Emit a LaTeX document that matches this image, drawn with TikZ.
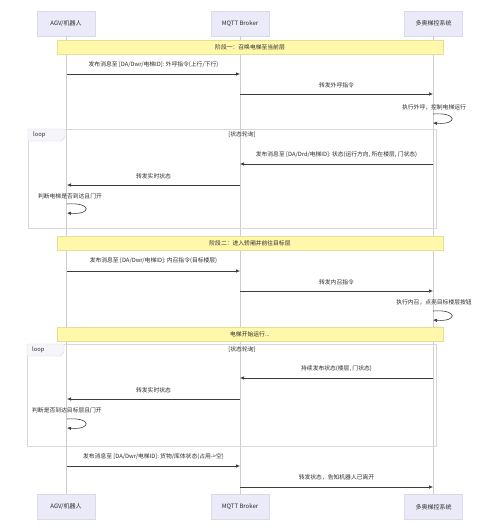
\documentclass[tikz,border=0pt]{standalone}
\usepackage{fontspec}
\setmainfont{Noto Sans CJK SC}
\usetikzlibrary{arrows.meta}
\definecolor{partfill}{RGB}{234,234,248}
\definecolor{partborder}{RGB}{218,218,236}
\definecolor{notefill}{RGB}{255,247,170}
\definecolor{noteborder}{RGB}{228,222,150}
\definecolor{lifecol}{RGB}{205,205,210}
\definecolor{loopcol}{RGB}{215,215,222}
\definecolor{loopfill}{RGB}{246,246,250}
\definecolor{arrowcol}{RGB}{60,60,60}
\definecolor{txt}{RGB}{45,45,45}
\begin{document}
\begin{tikzpicture}[x=1pt,y=-1pt,
  part/.style={draw=partborder, fill=partfill, line width=0.4pt, minimum width=58pt, minimum height=25pt, font=\fontsize{6}{7}\selectfont, text=txt, inner sep=0pt},
  lifeline/.style={draw=lifecol, line width=0.5pt},
  msg/.style={draw=arrowcol, line width=0.6pt, -{Latex[length=4pt,width=3.5pt]}},
  lbl/.style={font=\fontsize{5.8}{7}\selectfont, text=txt, inner sep=0pt},
  notebox/.style={draw=noteborder, fill=notefill, line width=0.5pt, minimum width=386pt, minimum height=14pt, font=\fontsize{5.8}{7}\selectfont, text=txt, inner sep=0pt},
  loopbox/.style={draw=loopcol, line width=0.5pt},
  looptag/.style={draw=loopcol, fill=loopfill, line width=0.4pt},
]
\useasboundingbox (0,0) rectangle (500,531);
\fill[white] (0,0) rectangle (500,531);

% participants
\node[part] (aT) at (66,23.5) {AGV/机器人};
\node[part] (bT) at (240,23.5) {MQTT Broker};
\node[part] (cT) at (433.5,23.5) {多奥梯控系统};
\node[part] (aB) at (66,507) {AGV/机器人};
\node[part] (bB) at (240,507) {MQTT Broker};
\node[part] (cB) at (433.5,507) {多奥梯控系统};

% lifelines
\draw[lifeline] (aT.south) -- (aB.north);
\draw[lifeline] (bT.south) -- (bB.north);
\draw[lifeline] (cT.south) -- (cB.north);

% loop boxes
\draw[loopbox] (28,129) rectangle (436,228);
\draw[looptag] (28,129) -- (65,129) -- (65,137) -- (61,141) -- (28,141) -- cycle;
\node[lbl, anchor=west] (loopA) at (33,134.5) {loop};
\node[lbl] (condA) at (242,134.5) {[状态轮询]};

\draw[loopbox] (27,344) rectangle (436,446);
\draw[looptag] (27,344) -- (64,344) -- (64,352) -- (60,356) -- (27,356) -- cycle;
\node[lbl, anchor=west] (loopB) at (32,349.5) {loop};
\node[lbl] (condB) at (242,349.5) {[状态轮询]};

% notes
\node[notebox] (n1) at (250,47) {阶段一：召唤电梯至当前层};
\node[notebox] (n2) at (250,243) {阶段二：进入轿厢并前往目标层};
\node[notebox] (n3) at (250,334) {电梯开始运行...};

% coordinates on lifelines
\coordinate (a1) at (67,74);   \coordinate (b1) at (240,74);
\coordinate (b2) at (240,94);  \coordinate (c2) at (433,94);
\coordinate (c3a) at (433,114); \coordinate (c3b) at (433,123);
\coordinate (c4) at (433,164); \coordinate (b4) at (240,164);
\coordinate (b5) at (240,185); \coordinate (a5) at (67,185);
\coordinate (a6a) at (67,204); \coordinate (a6b) at (67,213);
\coordinate (a8) at (67,271);  \coordinate (b8) at (240,271);
\coordinate (b9) at (240,291); \coordinate (c9) at (433,291);
\coordinate (c10a) at (433,311); \coordinate (c10b) at (433,320);
\coordinate (c13) at (433,378); \coordinate (b13) at (240,378);
\coordinate (b14) at (240,399); \coordinate (a14) at (67,399);
\coordinate (a15a) at (67,419); \coordinate (a15b) at (67,428);
\coordinate (a16) at (67,466); \coordinate (b16) at (240,466);
\coordinate (b17) at (240,487); \coordinate (c17) at (433,487);

% messages
\draw[msg] (a1) -- (b1);
\node[lbl] (l1) at (153.5,65) {发布消息至 [DA/Dwr/电梯ID]: 外呼指令(上行/下行)};
\draw[msg] (b2) -- (c2);
\node[lbl] (l2) at (336.5,85) {转发外呼指令};
\draw[msg] (c3a) .. controls +(25,-2) and +(25,2) .. (c3b);
\node[lbl] (l3) at (434,107) {执行外呼，控制电梯运行};

\draw[msg] (c4) -- (b4);
\node[lbl] (l4) at (336.5,155) {发布消息至 [DA/Drd/电梯ID]: 状态(运行方向, 所在楼层, 门状态)};
\draw[msg] (b5) -- (a5);
\node[lbl] (l5) at (153.5,176) {转发实时状态};
\draw[msg] (a6a) .. controls +(25,-2) and +(25,2) .. (a6b);
\node[lbl] (l6) at (70,196) {判断电梯是否到达且门开};

\draw[msg] (a8) -- (b8);
\node[lbl] (l8) at (153.5,261) {发布消息至 [DA/Dwr/电梯ID]: 内召指令(目标楼层)};
\draw[msg] (b9) -- (c9);
\node[lbl] (l9) at (336.5,282) {转发内召指令};
\draw[msg] (c10a) .. controls +(25,-2) and +(25,2) .. (c10b);
\node[lbl] (l10) at (434,302) {执行内召，点亮目标楼层按钮};

\draw[msg] (c13) -- (b13);
\node[lbl] (l13) at (336.5,369) {持续发布状态(楼层, 门状态)};
\draw[msg] (b14) -- (a14);
\node[lbl] (l14) at (153.5,390) {转发实时状态};
\draw[msg] (a15a) .. controls +(25,-2) and +(25,2) .. (a15b);
\node[lbl] (l15) at (67,410) {判断是否到达目标层且门开};

\draw[msg] (a16) -- (b16);
\node[lbl] (l16) at (153.5,457) {发布消息至 [DA/Dwr/电梯ID]: 货物/库体状态(占用->空)};
\draw[msg] (b17) -- (c17);
\node[lbl] (l17) at (336.5,477) {转发状态，告知机器人已离开};
\end{tikzpicture}
\end{document}
